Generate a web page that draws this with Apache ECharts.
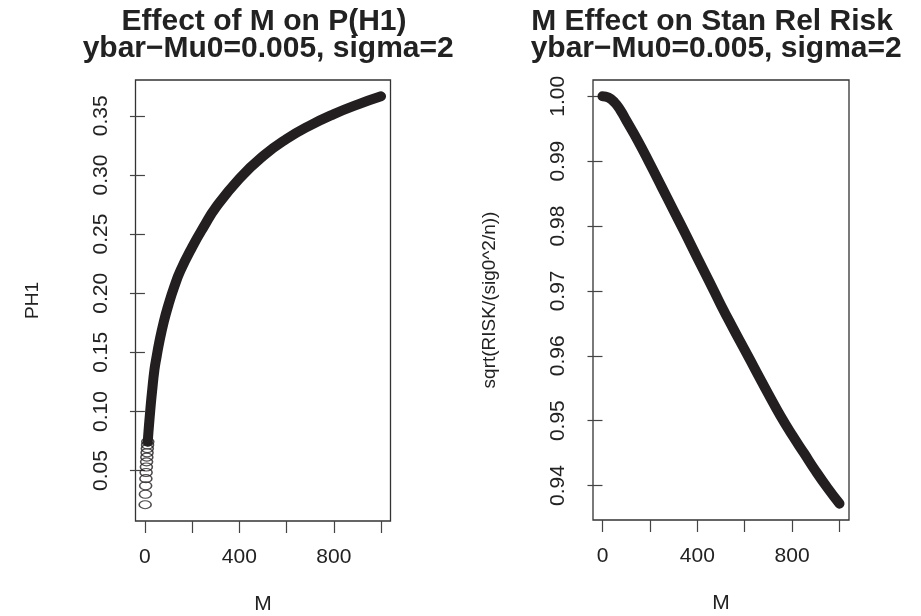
<!DOCTYPE html>
<html>
<head>
<meta charset="utf-8">
<script src="https://cdn.jsdelivr.net/npm/echarts@6/dist/echarts.min.js"></script>
<style>
  html, body { margin: 0; padding: 0; background: #fff; }
  #chart { width: 921px; height: 616px; }
</style>
</head>
<body>
<div id="chart"></div>
<script>
// left panel: P(H1) against M, sparse open circles at small M
const leftCircleM = [1, 2, 3, 4, 5, 6, 7, 8, 9, 10, 11, 12];
const leftCirclePH1 = [0.0212, 0.0300, 0.0372, 0.0432, 0.0484, 0.0530, 0.0574, 0.0614, 0.0651, 0.0686, 0.0716, 0.0745];

// left panel: dense part where the circles merge into a band
const leftBandM = [12, 15, 20, 25, 30, 40, 50, 60, 80, 100, 125, 150, 200, 250, 300, 400, 500, 600, 700, 800, 900, 1000];
const leftBandPH1 = [0.0745, 0.083, 0.095, 0.1065, 0.1166, 0.135, 0.147, 0.158, 0.176, 0.1905, 0.206, 0.219, 0.239, 0.2565, 0.2725, 0.297, 0.316, 0.3305, 0.342, 0.3515, 0.3595, 0.3665];

// right panel: standardised relative risk against M
const rightM = [0, 25, 50, 75, 100, 150, 200, 250, 300, 350, 400, 450, 500, 550, 600, 650, 700, 750, 800, 850, 900, 950, 1000];
const rightRisk = [1.0000, 0.9998, 0.9991, 0.9979, 0.9963, 0.9931, 0.9896, 0.9860, 0.9824, 0.9788, 0.9751, 0.9715, 0.9678, 0.9643, 0.9609, 0.9575, 0.9541, 0.9508, 0.9478, 0.9450, 0.9422, 0.9396, 0.9372];

// tick positions and labels
const xTicks = [0, 200, 400, 600, 800, 1000];
const xLabels = [0, 400, 800];
const leftYTicks = [0.05, 0.10, 0.15, 0.20, 0.25, 0.30, 0.35];
const rightYTicks = [0.94, 0.95, 0.96, 0.97, 0.98, 0.99, 1.00];

const ink = '#231f20';
const font = 'Liberation Sans, Arial, Helvetica, sans-serif';

const zip = (xs, ys) => xs.map((x, i) => [x, ys[i]]);

// R pads the data range by 4% on each side
function rRange(values) {
  const lo = Math.min(...values);
  const hi = Math.max(...values);
  const pad = 0.04 * (hi - lo);
  return [lo - pad, hi + pad];
}
const leftRange = rRange([...leftCirclePH1, ...leftBandPH1]);
const rightRange = rRange(rightRisk);
const mRange = rRange([0, 1000]);

function xAxisFor(gridIndex) {
  return {
    type: 'value',
    gridIndex,
    min: mRange[0],
    max: mRange[1],
    name: 'M',
    nameLocation: 'middle',
    nameGap: 73,
    nameTextStyle: { fontFamily: font, fontSize: 21, color: '#222' },
    axisLine: { show: false },
    splitLine: { show: false },
    axisTick: { show: true, inside: false, length: 12, customValues: xTicks, lineStyle: { color: '#444', width: 1.2 } },
    axisLabel: {
      customValues: xLabels,
      margin: 26,
      fontFamily: font,
      fontSize: 21,
      color: '#222',
    },
  };
}

function yAxisFor(gridIndex, ticks, range, name, nameGap) {
  return {
    type: 'value',
    gridIndex,
    min: range[0],
    max: range[1],
    name,
    nameLocation: 'middle',
    nameGap,
    nameTextStyle: { fontFamily: font, fontSize: 19, color: '#222' },
    axisLine: { show: false },
    splitLine: { show: false },
    axisTick: { show: true, length: 15, customValues: ticks, lineStyle: { color: '#444', width: 1.2 } },
    axisLabel: {
      customValues: ticks,
      rotate: 90,
      margin: 24,
      fontFamily: font,
      fontSize: 21,
      color: '#222',
      formatter: (v) => v.toFixed(2),
    },
  };
}

const chart = echarts.init(document.getElementById('chart'));

const titleStyle = { fontFamily: font, fontWeight: 'bold', fontSize: 30, lineHeight: 27, color: '#222' };

const option = {
  backgroundColor: '#fff',
  animation: false,
  title: [
    {
      text: 'Effect of M on P(H1)\n ybar\u2212Mu0=0.005, sigma=2',
      left: 259,
      top: 3,
      textAlign: 'center',
      textStyle: titleStyle,
    },
    {
      text: 'M Effect on Stan Rel Risk\n ybar\u2212Mu0=0.005, sigma=2',
      left: 707,
      top: 3,
      textAlign: 'center',
      textStyle: titleStyle,
    },
  ],
  grid: [
    { left: 135.5, top: 80, width: 255, height: 441, show: true, borderColor: '#333', borderWidth: 1.3, outerBoundsMode: 'none', containLabel: false },
    { left: 593, top: 80, width: 256, height: 440, show: true, borderColor: '#333', borderWidth: 1.3, outerBoundsMode: 'none', containLabel: false },
  ],
  xAxis: [xAxisFor(0), xAxisFor(1)],
  yAxis: [
    yAxisFor(0, leftYTicks, leftRange, 'PH1', 93),
    yAxisFor(1, rightYTicks, rightRange, 'sqrt(RISK/(sig0^2/n))', 94),
  ],
  series: [
    {
      name: 'PH1 band',
      type: 'line',
      xAxisIndex: 0,
      yAxisIndex: 0,
      data: zip(leftBandM, leftBandPH1),
      smooth: true,
      showSymbol: false,
      lineStyle: { color: ink, width: 10, cap: 'round', join: 'round' },
    },
    {
      name: 'PH1',
      type: 'scatter',
      xAxisIndex: 0,
      yAxisIndex: 0,
      data: zip(leftCircleM, leftCirclePH1),
      symbol: 'circle',
      symbolSize: [12, 8],
      itemStyle: { color: 'rgba(255,255,255,0)', borderColor: ink, borderWidth: 1.3 },
    },
    {
      name: 'Risk',
      type: 'line',
      xAxisIndex: 1,
      yAxisIndex: 1,
      data: zip(rightM, rightRisk),
      smooth: true,
      showSymbol: false,
      lineStyle: { color: ink, width: 10, cap: 'round', join: 'round' },
    },
  ],
};

chart.setOption(option);
</script>
</body>
</html>
